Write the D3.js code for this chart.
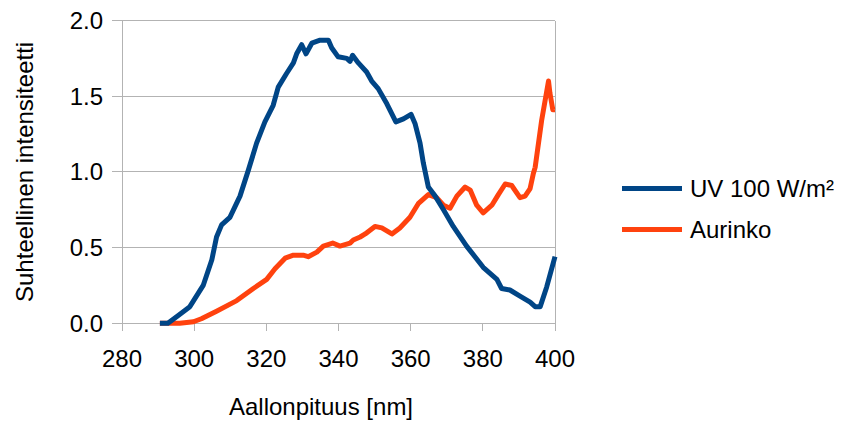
<!DOCTYPE html>
<html><head><meta charset="utf-8">
<script src="https://cdn.jsdelivr.net/npm/d3@7"></script>
<style>body{margin:0;background:#fff}svg{display:block;font-family:"Liberation Sans",Arial,sans-serif}</style>
</head><body><svg id="c" width="849" height="424"></svg>
<script>
const seriesNames = ["UV 100 W/m²", "Aurinko"];
const seriesColors = ["#004586", "#ff420e"];
const xTicks = [280, 300, 320, 340, 360, 380, 400];
const yTicks = [0.0, 0.5, 1.0, 1.5, 2.0];
const uvNm = [290.5, 292.7, 295.5, 298.8, 302.5, 304.9, 306.2, 307.6, 309.9, 312.7, 315, 317.3, 319.6, 321.9, 323.3, 325.6, 327.5, 328.4, 329.8, 331, 332.6, 334.9, 337.2, 338.1, 339.9, 342.3, 343.2, 343.9, 345.5, 347.8, 349.2, 351, 353.4, 355.9, 358, 360.1, 361.2, 362.6, 363.5, 364.9, 366.8, 369.1, 371.8, 375.5, 380.1, 383.9, 385.2, 387.5, 390.3, 393.1, 394.5, 395.9, 397.7, 400];
const uvVal = [0, 0, 0.05, 0.11, 0.25, 0.42, 0.57, 0.65, 0.70, 0.84, 1.01, 1.19, 1.33, 1.44, 1.56, 1.65, 1.72, 1.78, 1.84, 1.78, 1.85, 1.87, 1.87, 1.82, 1.76, 1.75, 1.73, 1.77, 1.72, 1.66, 1.60, 1.55, 1.45, 1.33, 1.35, 1.38, 1.32, 1.19, 1.06, 0.90, 0.84, 0.75, 0.64, 0.51, 0.37, 0.29, 0.23, 0.22, 0.18, 0.14, 0.11, 0.11, 0.24, 0.44];
const sunNm = [290.5, 293, 296, 299.8, 302, 306.2, 311.8, 316.4, 320.1, 322.4, 325.2, 327.5, 330.2, 331.6, 334, 335.8, 338.4, 340.4, 343.2, 344.1, 346, 347.4, 350.1, 352, 354.8, 357, 359.8, 362.1, 364.9, 367.2, 369.1, 370.9, 372.8, 375.1, 376.5, 378.3, 380.1, 382.5, 384.3, 386.2, 388, 390.3, 391.7, 393.1, 394, 394.5, 396.3, 398.2, 398.6, 399.4, 400];
const sunVal = [0, 0, 0, 0.01, 0.03, 0.08, 0.15, 0.23, 0.29, 0.36, 0.43, 0.45, 0.45, 0.44, 0.47, 0.51, 0.53, 0.51, 0.53, 0.55, 0.57, 0.59, 0.64, 0.63, 0.59, 0.63, 0.70, 0.79, 0.85, 0.83, 0.78, 0.76, 0.84, 0.90, 0.88, 0.78, 0.73, 0.78, 0.85, 0.92, 0.91, 0.83, 0.84, 0.89, 0.99, 1.03, 1.34, 1.60, 1.52, 1.41, 1.41];

const svg = d3.select("#c");
const L = 122, R = 555, T = 20.5, B = 323.3;
const x = d3.scaleLinear().domain([280, 400]).range([L, R]);
const y = d3.scaleLinear().domain([0, 2]).range([B, T]);
const grid = "#b3b3b3";

svg.append("g").selectAll("line").data(yTicks).join("line")
  .attr("x1", L - 10).attr("x2", R).attr("y1", d => y(d)).attr("y2", d => y(d))
  .attr("stroke", grid).attr("stroke-width", 1).attr("shape-rendering", "crispEdges");
svg.append("line").attr("x1", L).attr("x2", L).attr("y1", T).attr("y2", B + 8)
  .attr("stroke", grid).attr("shape-rendering", "crispEdges");
svg.append("line").attr("x1", R).attr("x2", R).attr("y1", T).attr("y2", B + 8)
  .attr("stroke", grid).attr("shape-rendering", "crispEdges");
svg.append("g").selectAll("line").data(xTicks).join("line")
  .attr("x1", d => x(d)).attr("x2", d => x(d)).attr("y1", B).attr("y2", B + 8)
  .attr("stroke", grid).attr("shape-rendering", "crispEdges");

svg.append("g").selectAll("text").data(xTicks).join("text")
  .attr("x", d => x(d)).attr("y", 367).attr("text-anchor", "middle")
  .attr("font-size", 24).attr("fill", "#000").text(d => d);
svg.append("g").selectAll("text").data(yTicks).join("text")
  .attr("x", 103).attr("y", d => y(d) + 8.5).attr("text-anchor", "end")
  .attr("font-size", 24).attr("fill", "#000").text(d => d.toFixed(1));

svg.append("text").attr("x", 321).attr("y", 415).attr("text-anchor", "middle")
  .attr("font-size", 24).text("Aallonpituus [nm]");
svg.append("text").attr("transform", `translate(33,${(T + B) / 2}) rotate(-90)`)
  .attr("text-anchor", "middle").attr("font-size", 24).text("Suhteellinen intensiteetti");

const line = d3.line().x(d => x(d[0])).y(d => y(d[1]));
const uv = uvNm.map((n, i) => [n, uvVal[i]]);
const sun = sunNm.map((n, i) => [n, sunVal[i]]);
svg.append("path").attr("d", line(sun)).attr("fill", "none").attr("stroke", seriesColors[1])
  .attr("stroke-width", 5).attr("stroke-linejoin", "round");
svg.append("path").attr("d", line(uv)).attr("fill", "none").attr("stroke", seriesColors[0])
  .attr("stroke-width", 5).attr("stroke-linejoin", "round");

const legY = [188.5, 229.5];
const lg = svg.append("g");
seriesNames.forEach((name, i) => {
  lg.append("line").attr("x1", 622).attr("x2", 682).attr("y1", legY[i]).attr("y2", legY[i])
    .attr("stroke", seriesColors[i]).attr("stroke-width", 5);
  lg.append("text").attr("x", 690).attr("y", legY[i] + 8.5).attr("font-size", 24).text(name);
});
</script></body></html>
